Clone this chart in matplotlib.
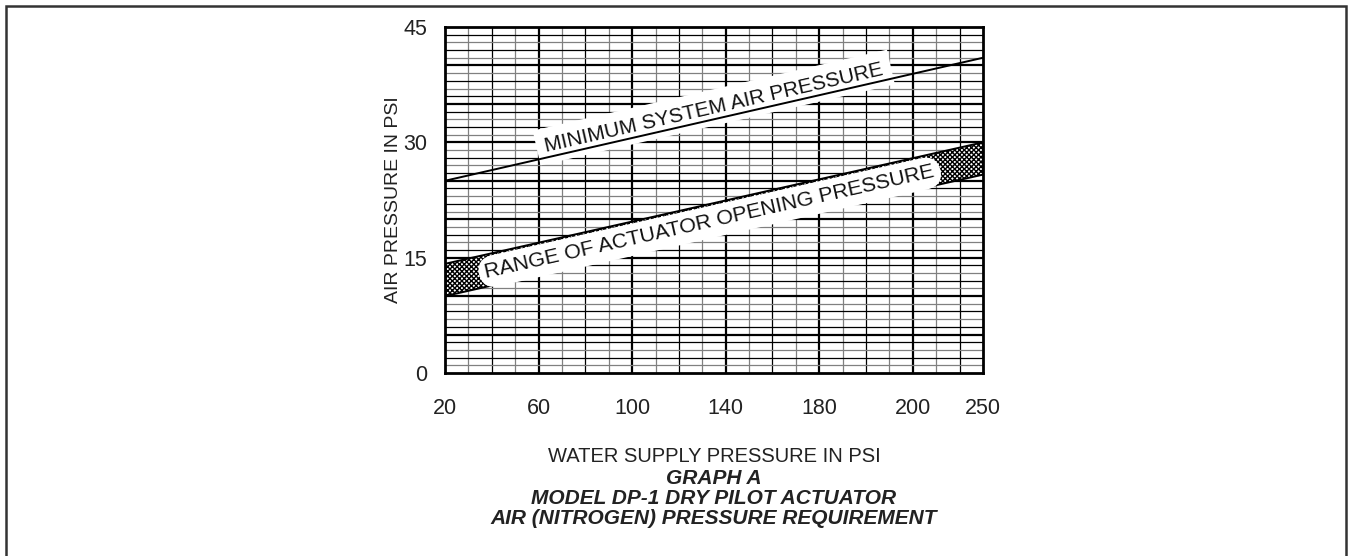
import numpy as np
import matplotlib
matplotlib.use("Agg")
import matplotlib.pyplot as plt
from matplotlib.patches import Rectangle

plt.rcParams['font.family'] = ['Liberation Sans', 'DejaVu Sans']
plt.rcParams['hatch.linewidth'] = 1.0

# x axis of the original is not linear: ticks sit on equal cells
water_ticks = [20, 60, 100, 140, 180, 200, 250]
tick_cells = [0, 4, 8, 12, 16, 20, 23]
air_ticks = [0, 15, 30, 45]

# lines (water psi -> air psi)
min_air_x = [20, 250]
min_air_y = [25, 41]
band_x = [20, 250]
band_low = [10, 25.8]
band_high = [14.2, 30]

min_label = "MINIMUM SYSTEM AIR PRESSURE"
band_label = "RANGE OF ACTUATOR OPENING PRESSURE"


def fwd(v):
    return np.interp(v, water_ticks, tick_cells)


def inv(c):
    return np.interp(c, tick_cells, water_ticks)


W, H = 1348, 556
fig = plt.figure(figsize=(W / 100, H / 100), dpi=100)
ax = fig.add_axes([445 / W, 1 - 373 / H, (983 - 445) / W, (373 - 27) / H])
ax.set_xscale('function', functions=(fwd, inv))
ax.set_xlim(20, 250)
ax.set_ylim(0, 45)

# grid paper
for k in range(1, 23):
    if k % 4 == 0:
        c, lw = 'black', 1.6
    elif k % 2 == 0:
        c, lw = 'black', 0.9
    else:
        c, lw = '#808080', 0.9
    ax.axvline(inv(k), color=c, lw=lw, zorder=1)
for k in range(1, 45):
    if k % 5 == 0:
        c, lw = 'black', 1.6
    elif k % 2 == 0:
        c, lw = 'black', 0.9
    else:
        c, lw = '#808080', 0.9
    ax.axhline(k, color=c, lw=lw, zorder=1)

# band of actuator opening pressure
ax.fill_between(band_x, band_low, band_high, facecolor='white',
                edgecolor='black', hatch='xxxxxxx', lw=1.4, zorder=3)

# minimum system air pressure line
ax.plot(min_air_x, min_air_y, color='black', lw=1.4, zorder=4)

ax.set_xticks(water_ticks)
ax.set_xticklabels([str(v) for v in water_ticks])
ax.set_yticks(air_ticks)
ax.minorticks_off()
ax.tick_params(axis='x', length=0, pad=18, labelsize=15.5, colors='#222222')
ax.tick_params(axis='y', length=0, pad=13, labelsize=15.5, colors='#222222')
for s in ax.spines.values():
    s.set_linewidth(2)
    s.set_zorder(6)


def angle_of(xs, ys):
    p = ax.transData.transform(np.column_stack([xs, ys]))
    return np.degrees(np.arctan2(p[1, 1] - p[0, 1], p[1, 0] - p[0, 0]))


ang = angle_of(min_air_x, min_air_y)
tx = 136
ty = np.interp(fwd(tx), fwd(np.array(min_air_x)), min_air_y)
off = 6
ax.annotate(min_label, xy=(tx, ty),
            xytext=(-off * np.sin(np.radians(ang)), off * np.cos(np.radians(ang))),
            textcoords='offset pixels', rotation=ang, rotation_mode='anchor',
            ha='center', va='baseline', fontsize=15, color='#111111',
            bbox=dict(boxstyle='square,pad=0.4', fc='white', ec='none'),
            zorder=2)

band_mid = [(a + b) / 2 for a, b in zip(band_low, band_high)]
ang2 = angle_of(band_x, band_mid)
bx = 133
by = np.interp(fwd(bx), fwd(np.array(band_x)), band_mid)
ax.text(bx, by, band_label, rotation=ang2, rotation_mode='anchor',
        ha='center', va='center_baseline', fontsize=15.4, color='#111111',
        bbox=dict(boxstyle='round,pad=0.3,rounding_size=0.8', fc='white', ec='none'),
        zorder=5)

# axis titles and caption
fig.text(393 / W, 1 - 200 / H, "AIR PRESSURE IN PSI", rotation=90,
         ha='center', va='center', fontsize=14, color='#222222')
fig.text(714 / W, 1 - 456 / H, "WATER SUPPLY PRESSURE IN PSI",
         ha='center', va='center', fontsize=14.5, color='#222222')
caption = ["GRAPH A", "MODEL DP-1 DRY PILOT ACTUATOR",
           "AIR (NITROGEN) PRESSURE REQUIREMENT"]
for i, line in enumerate(caption):
    fig.text(714 / W, 1 - (479 + 19.5 * i) / H, line, ha='center', va='center',
             fontsize=15, fontweight='bold', fontstyle='italic', color='#222222')

# outer frame (bottom edge is cut off in the original)
fig.patches.append(Rectangle((6 / W, -0.1), 1340 / W, 1.1 - 6 / H,
                             transform=fig.transFigure, fill=False,
                             ec='#333333', lw=1.8))

fig.savefig('out.png', dpi=100)
